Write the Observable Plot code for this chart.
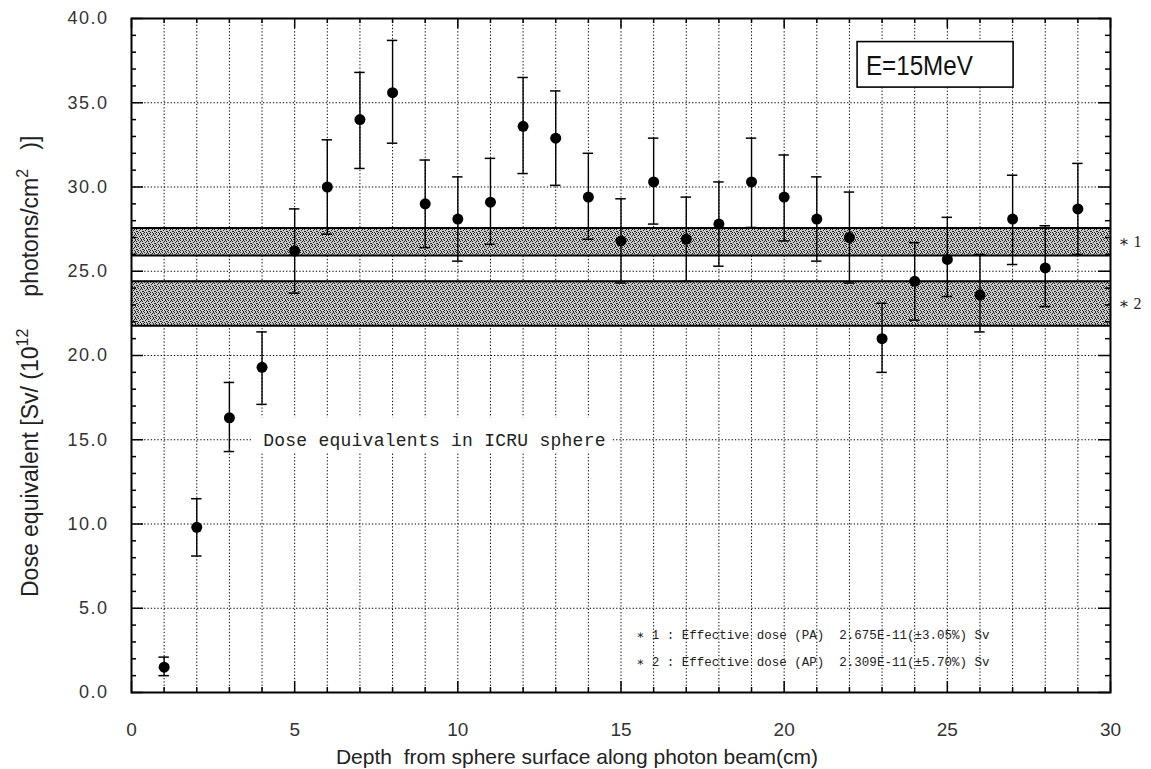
<!DOCTYPE html>
<html><head><meta charset="utf-8">
<script src="https://cdn.jsdelivr.net/npm/d3@7"></script>
<script src="https://cdn.jsdelivr.net/npm/@observablehq/plot@0.6"></script>
<style>body{margin:0;background:#fff} svg{display:block}</style>
</head><body><div id="chart"></div>
<script>
// ---- data ----
const depth = [1,2,3,4,5,6,7,8,9,10,11,12,13,14,15,16,17,18,19,20,21,22,23,24,25,26,27,28,29];
const dose     = [1.5, 9.8,16.3,19.3,26.2,30.0,34.0,35.6,29.0,28.1,29.1,33.6,32.9,29.4,26.8,30.3,26.9,27.8,30.3,29.4,28.1,27.0,21.0,24.4,25.7,23.6,28.1,25.2,28.7];
const doseLow  = [1.0, 8.1,14.3,17.1,23.7,27.2,31.1,32.6,26.4,25.6,26.6,30.8,30.1,26.9,24.3,27.8,24.4,25.3,27.6,26.8,25.6,24.3,19.0,22.1,23.5,21.4,25.4,22.9,26.0];
const doseHigh = [2.1,11.5,18.4,21.4,28.7,32.8,36.8,38.7,31.6,30.6,31.7,36.5,35.7,32.0,29.3,32.9,29.4,30.3,32.9,31.9,30.6,29.7,23.1,26.7,28.2,26.0,30.7,27.7,31.4];
const bandNames = ["\u2217 1", "\u2217 2"];
const bandLow  = [25.93, 21.77];
const bandHigh = [27.57, 24.41];
const xTickValues = [0,5,10,15,20,25,30];
const yTickValues = [0,5,10,15,20,25,30,35,40];
const legendLines = [
  "\u2217 1 : Effective dose (PA)  2.675E-11(\u00b13.05%) Sv",
  "\u2217 2 : Effective dose (AP)  2.309E-11(\u00b15.70%) Sv"
];
const energyLabel = "E=15MeV";
const curveLabel = "Dose equivalents in ICRU sphere";
const xTitle = "Depth  from sphere surface along photon beam(cm)";

// ---- layout ----
const W = 1151, H = 769;
const mL = 131, mR = 41, mT = 18, mB = 77;
const fw = W - mL - mR, fh = H - mT - mB;
const sans = "'Liberation Sans', Arial, sans-serif";
const mono = "'Liberation Mono', 'DejaVu Sans Mono', monospace";
const serif = "'Liberation Serif', 'DejaVu Serif', serif";

const rows = depth.map((d, i) => ({depth: d, dose: dose[i], lo: doseLow[i], hi: doseHigh[i]}));
const bands = bandNames.map((n, i) => ({name: n, lo: bandLow[i], hi: bandHigh[i]}));
const xMinor = d3.range(0, 31).filter(d => d % 5);
const yMinor = d3.range(0, 41).filter(d => d % 5);
const gridStyle = {stroke: "#000", strokeOpacity: 1, strokeWidth: 1, strokeDasharray: "1.3,2"};
const tk = {stroke: "#000", strokeWidth: 1.5};

const svg = Plot.plot({
  width: W, height: H,
  marginLeft: mL, marginRight: mR, marginTop: mT, marginBottom: mB,
  style: {fontFamily: sans, background: "#fff", color: "#333"},
  x: {domain: [0, 30]},
  y: {domain: [0, 40]},
  marks: [
    Plot.gridX(d3.range(1, 30), gridStyle),
    Plot.gridY(d3.range(5, 40, 5), gridStyle),
    Plot.rect(bands, {y1: "lo", y2: "hi", fill: "url(#stipple)", ariaLabel: "bands"}),
    Plot.ruleY(bands, {y: "lo", stroke: "#000", strokeWidth: 2}),
    Plot.ruleY(bands, {y: "hi", stroke: "#000", strokeWidth: 2}),
    Plot.text(bands, {y: d => (d.lo + d.hi) / 2, text: "name", frameAnchor: "right", dx: 8, textAnchor: "start", fontFamily: serif, fontSize: 16, fill: "#222"}),
    Plot.ruleX(rows, {x: "depth", y1: "lo", y2: "hi", stroke: "#000", strokeWidth: 1.4}),
    Plot.ruleY(rows, {y: "hi", x1: d => d.depth - 0.16, x2: d => d.depth + 0.16, stroke: "#000", strokeWidth: 1.5}),
    Plot.ruleY(rows, {y: "lo", x1: d => d.depth - 0.16, x2: d => d.depth + 0.16, stroke: "#000", strokeWidth: 1.5}),
    Plot.dot(rows, {x: "depth", y: "dose", r: 5.5, fill: "#000"}),
    Plot.tickX(xMinor, {x: d => d, insetTop: fh - 5, ...tk}),
    Plot.tickX(xTickValues, {x: d => d, insetTop: fh - 11, ...tk}),
    Plot.tickX(xMinor, {x: d => d, insetBottom: fh - 5, ...tk}),
    Plot.tickX(xTickValues, {x: d => d, insetBottom: fh - 10, ...tk}),
    Plot.tickY(yMinor, {y: d => d, insetRight: fw - 5, ...tk}),
    Plot.tickY(yTickValues, {y: d => d, insetRight: fw - 12, ...tk}),
    Plot.tickY(yMinor, {y: d => d, insetLeft: fw - 5, ...tk}),
    Plot.tickY(yTickValues, {y: d => d, insetLeft: fw - 12, ...tk}),
    Plot.frame({stroke: "#000", strokeWidth: 2}),
    Plot.axisX(xTickValues, {tickSize: 0, tickPadding: 30, fontSize: 19, label: null}),
    Plot.axisY(yTickValues, {tickSize: 0, tickPadding: 23, fontSize: 18, tickFormat: d => d.toFixed(1), label: null})
  ]
});
document.getElementById("chart").appendChild(svg);

const x = svg.scale("x"), y = svg.scale("y");
const s = d3.select(svg);
s.selectAll('g[aria-label="y-axis tick label"] text').style("letter-spacing", "1.5px");

// stipple pattern for the bands
const pat = s.insert("defs", ":first-child").append("pattern")
  .attr("id", "stipple").attr("width", 6).attr("height", 6).attr("patternUnits", "userSpaceOnUse");
pat.append("rect").attr("width", 6).attr("height", 6).attr("fill", "#cacaca");
[[0,0],[3,0],[1,2],[4,1],[2,4],[5,3],[0,4],[3,5],[5,5],[2,1],[4,3]].forEach(([a, b]) =>
  pat.append("rect").attr("x", a).attr("y", b).attr("width", 1).attr("height", 1).attr("fill", "#222"));

// curve label with white background
s.insert("rect", 'g[aria-label="bands"]')
  .attr("x", x.apply(3.74)).attr("width", x.apply(14.74) - x.apply(3.74))
  .attr("y", y.apply(16.3)).attr("height", y.apply(14.2) - y.apply(16.3))
  .attr("fill", "#fff");
s.append("text").attr("x", x.apply(4.05)).attr("y", y.apply(15)).attr("dy", "0.35em")
  .attr("text-anchor", "start")
  .attr("font-family", mono).attr("font-size", 18).attr("fill", "#222")
  .style("letter-spacing", "0.25px").text(curveLabel);

// energy box
s.append("rect").attr("x", x.apply(22.25)).attr("width", x.apply(27.03) - x.apply(22.25))
  .attr("y", y.apply(38.6)).attr("height", y.apply(35.9) - y.apply(38.6))
  .attr("fill", "#fff").attr("stroke", "#000").attr("stroke-width", 1.6);
s.append("text").attr("x", x.apply(22.52)).attr("y", y.apply(36.6))
  .attr("text-anchor", "start")
  .attr("font-family", sans).attr("font-size", 28).attr("fill", "#111")
  .attr("textLength", 107).attr("lengthAdjust", "spacingAndGlyphs").text(energyLabel);

// legend lines
legendLines.forEach((t, i) => {
  s.append("text").attr("x", x.apply(15.5)).attr("y", y.apply([3.4, 1.8][i])).attr("dy", "0.35em")
    .attr("text-anchor", "start")
    .attr("font-family", mono).attr("font-size", 12.5).attr("fill", "#222")
    .style("white-space", "pre").text(t);
});

// axis titles
s.append("text").attr("x", 577).attr("y", 764).attr("text-anchor", "middle")
  .attr("font-family", sans).attr("font-size", 21).attr("fill", "#222")
  .style("white-space", "pre").text(xTitle);

const yl = s.append("text").attr("transform", "translate(38,597) rotate(-90)")
  .attr("text-anchor", "start")
  .attr("font-family", sans).attr("font-size", 23).attr("fill", "#222").style("white-space", "pre");
yl.append("tspan").text("Dose equivalent [Sv/ (10");
yl.append("tspan").attr("dy", -10).attr("font-size", 16).text("12");
yl.append("tspan").attr("dy", 10).text("\u00a0\u00a0\u00a0\u00a0\u00a0photons/cm");
yl.append("tspan").attr("dy", -10).attr("font-size", 16).text("2");
yl.append("tspan").attr("dy", 10).text("\u00a0\u00a0\u00a0)]");
</script>
</body></html>
